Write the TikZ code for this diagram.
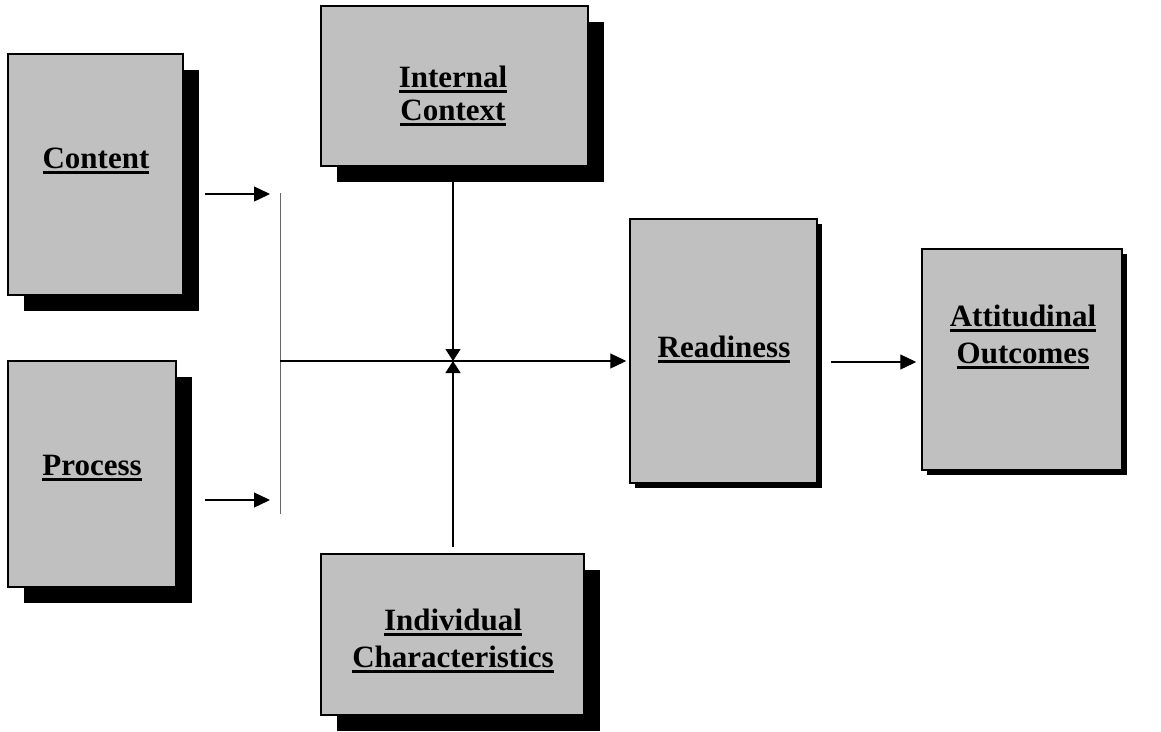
\documentclass[tikz,border=0pt]{standalone}
\usepackage{fontspec}
\setmainfont{Liberation Serif}
\usetikzlibrary{positioning, shadows, arrows.meta}

\definecolor{boxgray}{RGB}{192,192,192}
\newcommand{\undl}[1]{\vtop{\hbox{#1}\kern3pt\hrule height 2.5pt}}

\begin{document}
\begin{tikzpicture}[
    x=1pt, y=-1pt,
    box/.style={draw=black, line width=1.5pt, fill=boxgray, inner sep=0pt},
    deep/.style={drop shadow={shadow xshift=16pt, shadow yshift=-16pt, fill=black, opacity=1}},
    flat/.style={drop shadow={shadow xshift=5pt, shadow yshift=-5pt, fill=black, opacity=1}},
    lbl/.style={font=\fontsize{31}{37}\selectfont\bfseries, align=center, anchor=base, inner sep=0pt},
    arr/.style={line width=1.3pt, -{Triangle[length=16pt, width=15pt]}},
    varr/.style={line width=1.3pt, -{Triangle[length=12pt, width=15pt]}},
]
\useasboundingbox (0,0) rectangle (1161,731);

% Boxes
\node[box, deep, minimum width=175pt, minimum height=241pt] (content) at (95.5,174.5) {};
\node[box, deep, minimum width=168pt, minimum height=226pt] (process) at (92,474) {};
\node[box, deep, minimum width=267pt, minimum height=160pt] (internal) at (454.5,86) {};
\node[box, deep, minimum width=263pt, minimum height=161pt] (individual) at (452.5,634.5) {};
\node[box, flat, minimum width=187pt, minimum height=264pt] (readiness) at (723.5,351) {};
\node[box, flat, minimum width=200pt, minimum height=221pt] (outcomes) at (1022,359.5) {};

% Labels (base = last line)
\node[lbl] (contentlbl) at (96,168) {\undl{Content}};
\node[lbl] (processlbl) at (92,475) {\undl{Process}};
\node[lbl, font=\fontsize{31}{33}\selectfont\bfseries] (internallbl) at (453,120) {\undl{Internal}\\\undl{Context}};
\node[lbl] (individuallbl) at (453,667) {\undl{Individual}\\\undl{Characteristics}};
\node[lbl] (readinesslbl) at (724,357) {\undl{Readiness}};
\node[lbl] (outcomeslbl) at (1023,363) {\undl{Attitudinal}\\\undl{Outcomes}};

% Junction points
\coordinate (bartop) at (280,193);
\coordinate (barbot) at (280,514);
\coordinate (barmid) at (280,361);
\coordinate (cross) at (453,361);
\coordinate (contentout) at (205,194);
\coordinate (contentin) at (270,194);
\coordinate (processout) at (205,500);
\coordinate (processin) at (270,500);

% Connectors
\draw[line width=1pt, black!60] (bartop) -- (barbot);
\draw[arr] (contentout) -- (contentin);
\draw[arr] (processout) -- (processin);
\draw[arr, shorten >=3pt] (barmid) -- (readiness.west |- barmid);
\draw[varr] (internal.south -| cross) -- (cross);
\draw[varr] ([yshift=6pt]individual.north -| cross) -- (cross);
\draw[arr, shorten <=13pt, shorten >=5pt] (readiness.east |- 0,362) -- (outcomes.west |- 0,362);
\end{tikzpicture}
\end{document}
